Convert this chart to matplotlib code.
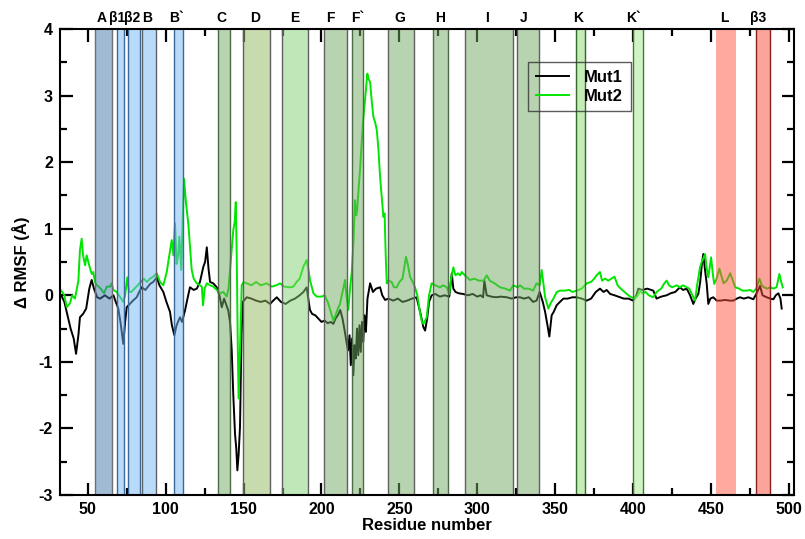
import matplotlib
matplotlib.use("Agg")
import matplotlib.pyplot as plt
import matplotlib.transforms as mtransforms
from matplotlib.ticker import MultipleLocator

plt.rcParams['font.family'] = ['Liberation Sans', 'DejaVu Sans']
plt.rcParams['font.weight'] = 'bold'
plt.rcParams['axes.unicode_minus'] = False

# Mut1 (black)
res_mut1 = [33, 35, 37, 39, 41, 42.5, 44, 45, 47, 49, 51, 52.5, 54, 56, 58, 61, 64, 66.5, 68, 69.6,
            71, 72.8, 74, 75, 77, 79, 81.4, 83, 84.6, 87, 90, 92, 94.3, 96, 98.5, 100.5, 102.8, 104,
            105.6, 107, 109.2, 110.5, 112.4, 114, 115.6, 118, 120, 122, 124.2, 125.3, 126.4, 127.5,
            128.5, 130.5, 132.8, 134.5, 136, 137.5, 139, 140.2, 141.3, 142.4, 143.4, 144.5, 145.3,
            146, 146.8, 147.7, 148.7, 149.5, 152, 155, 158, 161, 164, 167, 169, 171.3, 174, 177, 180,
            183, 186, 188.4, 190.5, 191.5, 192.6, 194, 196, 198, 200, 202, 204, 206, 207.6, 209,
            210.5, 212, 213.5, 215, 216, 217, 218, 218.8, 219.6, 220.4, 221.2, 222, 222.8, 223.6,
            224.4, 225.2, 226, 226.8, 227.6, 228.5, 229.5, 231.2, 233, 235, 237.6, 239, 240.8, 243,
            246, 249, 252, 255, 258, 261, 263.3, 265.4, 266.5, 267.8, 269, 270.7, 273, 276, 279, 282,
            283.6, 284.6, 286, 288, 290.8, 294, 297, 300, 302, 303.7, 304.5, 306, 309, 312, 315, 319,
            322, 325, 327.4, 330, 333, 335.8, 338, 340, 342, 343.5, 345, 346.2, 347, 347.7, 349,
            350.9, 353, 355.2, 358, 361, 363.8, 367, 370.2, 373, 376, 378.7, 381, 383, 385.2, 388,
            391.6, 394, 397, 400, 402, 403.3, 406, 409, 412.9, 415, 418, 421.5, 424, 427, 430, 432,
            434.4, 436.5, 438.6, 440, 441.8, 443, 444, 445, 446, 447.2, 448.2, 449.5, 451.4, 453.6,
            456, 459, 462, 464.3, 466.5, 468.6, 471, 474, 477.1, 479, 481.4, 483, 485.7, 488, 490,
            491.5, 493.2, 494.5, 495.3]
rmsf_mut1 = [0.0, -0.1, -0.3, -0.5, -0.65, -0.88, -0.6, -0.33, -0.28, -0.2, 0.1, 0.23, 0.1, -0.03,
             -0.05, 0.0, -0.05, 0.0, -0.1, -0.2, -0.4, -0.73, -0.4, -0.18, -0.13, -0.08, -0.03, 0.05,
             0.12, 0.08, 0.17, 0.2, 0.27, 0.15, 0.05, -0.1, -0.25, -0.45, -0.6, -0.45, -0.33, -0.4,
             -0.23, -0.05, 0.12, 0.08, 0.1, 0.2, 0.43, 0.5, 0.72, 0.4, 0.2, 0.18, 0.12, 0.0, -0.18,
             -0.05, -0.15, -0.23, -0.4, -0.83, -1.5, -2.08, -2.3, -2.63, -2.4, -1.98, -0.58, -0.1,
             -0.03, -0.05, -0.08, -0.1, -0.08, -0.13, -0.08, -0.03, -0.1, -0.13, -0.08, -0.05, 0.0,
             0.05, 0.12, -0.05, -0.22, -0.28, -0.3, -0.35, -0.4, -0.38, -0.42, -0.4, -0.43, -0.35,
             -0.3, -0.22, -0.35, -0.55, -0.7, -0.83, -0.6, -1.05, -0.65, -1.2, -0.75, -0.95, -0.5,
             -0.9, -0.45, -0.85, -0.4, -0.7, -0.3, -0.55, -0.05, 0.18, 0.05, 0.1, 0.12, 0.0, -0.07,
             -0.05, -0.08, -0.05, -0.1, -0.08, -0.05, -0.03, -0.25, -0.48, -0.53, -0.35, -0.1, 0.0,
             0.02, -0.02, 0.0, -0.02, 0.33, 0.1, 0.05, 0.03, 0.02, 0.0, 0.02, -0.02, 0.0, -0.03,
             0.22, 0.0, -0.02, -0.03, -0.02, -0.03, -0.05, -0.03, -0.03, -0.05, -0.03, -0.1, -0.08,
             0.05, -0.1, -0.25, -0.45, -0.62, -0.45, -0.3, -0.25, -0.15, -0.1, -0.05, -0.05, -0.03,
             -0.03, -0.05, -0.08, -0.05, 0.05, 0.1, 0.05, 0.08, 0.02, 0.0, -0.03, -0.05, -0.05,
             -0.08, 0.0, 0.1, 0.08, 0.1, 0.07, -0.05, -0.02, 0.0, 0.03, 0.05, 0.12, 0.08, 0.1, 0.0,
             -0.13, -0.05, 0.02, 0.2, 0.45, 0.62, 0.4, 0.17, -0.13, -0.05, -0.03, -0.08, -0.08,
             -0.07, -0.08, -0.08, -0.05, -0.03, -0.05, -0.03, -0.06, 0.02, 0.14, 0.0, -0.03, -0.05,
             -0.06, 0.0, 0.03, -0.05, -0.2]

# Mut2 (green)
res_mut2 = [33, 35, 36.5, 38.6, 40, 41.8, 43, 44, 45, 46.1, 47, 48.3, 49.3, 50.4, 51.5, 52.6, 53.5,
            54.7, 55.8, 57, 59, 60.5, 62.2, 64.3, 65.4, 66.4, 68.6, 70, 71.5, 72.8, 74, 75.4, 76.5,
            78, 80, 82, 84, 86, 88, 90, 92, 94.3, 96.4, 98.5, 100.7, 102, 103.9, 105, 106, 107, 108,
            108.8, 110, 111, 111.8, 113, 114.6, 116.7, 118, 120, 122, 123.2, 124, 125, 126.4, 128.5,
            130.6, 132.8, 134.9, 137, 139.2, 140.3, 141.3, 142.4, 143.4, 144.3, 145, 145.6, 146.3,
            146.8, 147.6, 148.3, 148.8, 150, 152, 155, 158, 161, 164.9, 168, 171, 173.4, 176, 179.8,
            182, 184, 186, 188.4, 190.5, 191.5, 192.6, 194.8, 197, 200, 202, 204, 206, 207.6, 209,
            210.5, 211.9, 213, 214, 215.1, 216, 217.2, 218.3, 219.4, 220.5, 221.5, 222.3, 222.9,
            223.8, 224.7, 225.8, 226.9, 228, 229.4, 230.2, 231.2, 232.3, 233.3, 234.4, 235.5, 236.5,
            237.6, 238.6, 239.7, 240.5, 241.2, 241.9, 243, 245, 246.5, 248.3, 250, 252, 254.2,
            255.5, 256.8, 258.5, 260, 261.5, 263.3, 264.5, 265.4, 266.5, 267.5, 269, 270.7, 273,
            276, 278, 280.4, 282, 283.2, 284.6, 286, 287.5, 289, 290, 292, 295.3, 298, 301, 304,
            306, 308, 311, 314.6, 318, 321, 323, 326, 327.4, 330, 333, 335.8, 338, 340, 341.3,
            342.5, 343.5, 345.6, 347, 348.8, 351, 353.1, 356, 359, 361, 363.8, 367, 370.2, 373, 375,
            376.5, 378.7, 380, 382, 384, 386, 388, 390, 392, 395.9, 398, 401.2, 403, 404.4, 406,
            408, 410, 412.9, 415, 418, 420, 421.5, 423, 425, 428, 430, 432, 434.4, 436, 438, 439.7,
            441, 442.9, 444, 446.1, 447.2, 448.2, 449, 450, 451.2, 452, 453.5, 455.3, 456.5, 458,
            460, 462.3, 464, 465.5, 468, 470, 472.9, 475, 477, 479, 481, 482.5, 484, 486, 488, 490,
            492, 493.8, 495, 496]
rmsf_mut2 = [0.07, 0.0, -0.18, -0.12, 0.0, -0.05, 0.1, 0.22, 0.68, 0.85, 0.6, 0.45, 0.6, 0.5, 0.4,
             0.32, 0.35, 0.2, 0.15, 0.13, 0.08, 0.03, 0.13, 0.13, 0.18, 0.08, 0.05, 0.0, -0.05, -0.1,
             0.0, 0.27, 0.05, 0.05, 0.1, 0.15, 0.2, 0.25, 0.2, 0.25, 0.28, 0.33, 0.2, 0.15, 0.35,
             0.55, 0.83, 0.6, 1.08, 0.47, 0.6, 0.88, 0.38, 1.2, 1.75, 1.4, 1.06, 0.38, 0.25, 0.18,
             0.15, 0.13, -0.15, 0.1, 0.18, 0.15, 0.13, 0.08, 0.03, 0.05, -0.02, 0.1, 0.38, 0.7, 0.98,
             1.1, 1.4, 0.6, -0.8, -1.55, -0.9, -0.3, 0.15, 0.2, 0.18, 0.15, 0.2, 0.15, 0.18, 0.13,
             0.15, 0.18, 0.13, 0.12, 0.13, 0.2, 0.25, 0.43, 0.53, 0.4, 0.23, 0.03, -0.02, -0.02, 0.0,
             -0.1, -0.25, -0.38, -0.3, -0.2, -0.13, 0.0, 0.1, 0.23, 0.0, -0.22, 0.1, 0.35, 0.8,
             1.43, 1.2, 1.28, 1.6, 1.88, 2.3, 2.68, 2.95, 3.33, 3.25, 3.2, 2.9, 2.68, 2.6, 2.48,
             2.2, 1.78, 1.5, 1.18, 1.23, 0.6, 0.18, 0.22, 0.2, 0.12, 0.12, 0.2, 0.25, 0.58, 0.45,
             0.28, 0.2, 0.12, 0.0, -0.28, -0.4, -0.43, -0.38, -0.33, 0.0, 0.18, 0.15, 0.12, 0.15,
             0.12, 0.02, 0.25, 0.42, 0.3, 0.33, 0.3, 0.35, 0.3, 0.23, 0.25, 0.22, 0.22, 0.3, 0.22,
             0.18, 0.12, 0.1, 0.07, 0.15, 0.12, 0.15, 0.1, 0.1, 0.07, 0.18, 0.15, 0.38, 0.15, -0.03,
             -0.2, -0.12, -0.05, 0.05, 0.07, 0.07, 0.08, 0.05, 0.07, 0.1, 0.18, 0.2, 0.25, 0.3,
             0.35, 0.22, 0.25, 0.22, 0.25, 0.28, 0.15, 0.1, 0.02, -0.02, -0.05, 0.0, 0.07, 0.03,
             0.05, 0.0, -0.03, 0.05, 0.1, 0.18, 0.22, 0.15, 0.12, 0.15, 0.12, 0.15, 0.12, 0.1, 0.0,
             -0.08, 0.15, 0.42, 0.5, 0.62, 0.4, 0.27, 0.4, 0.57, 0.3, 0.17, 0.25, 0.4, 0.3, 0.18,
             0.22, 0.33, 0.22, 0.12, 0.1, 0.07, 0.07, 0.08, 0.05, 0.1, 0.25, 0.15, 0.12, 0.1, 0.12,
             0.1, 0.12, 0.32, 0.2, 0.12]

# secondary structure regions
region_names = ['A', 'β1', 'β2', 'B', 'B`', 'C', 'D', 'E', 'F', 'F`', 'G', 'H', 'I', 'J', 'K', 'K`', 'L', 'β3']
region_start = [54.7, 68.6, 76.1, 84.6, 105.6, 133.4, 149.9, 174.5, 201.8, 219.8, 242.9, 271.4, 292.1, 325.3, 363.3, 399.7, 453.0, 478.8]
region_end = [65.8, 73.5, 83.6, 93.8, 111.0, 141.3, 167.0, 191.6, 216.2, 226.5, 259.6, 281.4, 323.1, 339.6, 369.1, 406.1, 465.8, 487.8]
label_x = [59.0, 68.6, 78.2, 88.2, 107.1, 136.0, 157.4, 183.0, 205.9, 223.3, 250.4, 276.0, 306.0, 329.5, 364.8, 400.0, 458.8, 480.3]
region_colors = ['#4779ad', '#75b9f5', '#75b9f5', '#75b9f5', '#75b9f5', '#71a961', '#91b961', '#81d171',
                 '#71a961', '#71a961', '#71a961', '#71a961', '#71a961', '#71a961', '#8fd86f', '#a6e88a',
                 '#ff5541', '#f84b3b']
region_edges = ['#707070', '#3a6a9a', '#3a6a9a', '#606060', '#3a6a9a', '#4d6b47', '#606060', '#606060',
                '#606060', '#4d6b47', '#606060', '#4d6b47', '#606060', '#606060', '#2f6a2a', '#3f7a38',
                'none', '#8b2020']

fig = plt.figure(figsize=(8.05, 5.39), dpi=100)
ax = fig.add_axes([60 / 805, 44 / 539, 734 / 805, 466 / 539])

ax.plot(res_mut1, rmsf_mut1, color='black', lw=1.4, label='Mut1', zorder=2)
ax.plot(res_mut2, rmsf_mut2, color='#00e600', lw=1.4, label='Mut2', zorder=3)

for s, e, c, ec in zip(region_start, region_end, region_colors, region_edges):
    ax.axvspan(s, e, facecolor=c, alpha=0.5, zorder=4, lw=0)
    if ec != 'none':
        ax.axvline(s, color=ec, lw=1.0, zorder=4)
        ax.axvline(e, color=ec, lw=1.0, zorder=4)

trans = mtransforms.blended_transform_factory(ax.transData, ax.transAxes)
for name, x in zip(region_names, label_x):
    ax.text(x, 1.024, name, transform=trans, ha='center', va='center', fontsize=10, fontweight='bold')

ax.set_xlim(32.2, 503.2)
ax.set_ylim(-3, 4)
ax.xaxis.set_major_locator(MultipleLocator(50))
ax.xaxis.set_minor_locator(MultipleLocator(25))
ax.yaxis.set_major_locator(MultipleLocator(1))
ax.yaxis.set_minor_locator(MultipleLocator(0.5))
ax.tick_params(which='both', direction='in', top=True, right=True, width=1.6, labelsize=11.5)
ax.tick_params(which='major', length=9, pad=5)
ax.tick_params(which='minor', length=5)
for sp in ax.spines.values():
    sp.set_linewidth(1.5)
    sp.set_zorder(5)

ax.set_xlabel('Residue number', fontsize=12, fontweight='bold', labelpad=1)
ax.set_ylabel('Δ RMSF (Å)', fontsize=12, fontweight='bold', labelpad=6)

leg = ax.legend(loc='upper left', bbox_to_anchor=(0.638, 0.9285), fancybox=False, edgecolor='#333333',
                facecolor='none', framealpha=None, prop={'size': 12, 'weight': 'bold'},
                handlelength=2.0, borderpad=0.45, labelspacing=0.25, handletextpad=0.9,
                borderaxespad=0)
leg.get_frame().set_linewidth(1.0)
leg.set_zorder(6)

fig.savefig('out.png', dpi=100)
